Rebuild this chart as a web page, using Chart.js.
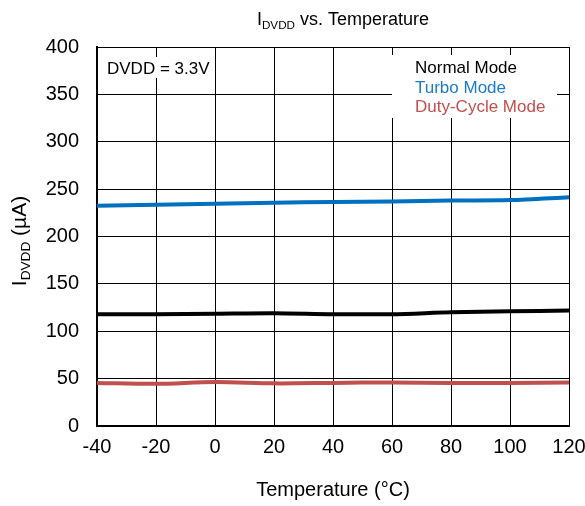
<!DOCTYPE html>
<html>
<head>
<meta charset="utf-8">
<script src="https://cdn.jsdelivr.net/npm/chart.js@4"></script>
<style>
  html, body { margin: 0; padding: 0; background: #fff; }
  #wrap { width: 585px; height: 506px; position: relative; }
</style>
</head>
<body>
<div id="wrap"><canvas id="idvddChart"></canvas></div>
<script>
// datos
const temperatures = [-40, -20, 0, 20, 40, 60, 80, 100, 120];
const normalMode = [118, 118, 118.5, 119, 118, 118, 120, 121, 122];
const turboMode = [232.5, 233.5, 234.5, 235.5, 236.5, 237, 238, 238.5, 241.5];
const dutyCycleMode = [45.5, 44.5, 46.5, 45, 45.5, 46, 45.5, 45.5, 46];
const yTicks = [0, 50, 100, 150, 200, 250, 300, 350, 400];
const xTicks = [-40, -20, 0, 20, 40, 60, 80, 100, 120];

const FONT = '"Liberation Sans", Arial, sans-serif';

// texto con subindice: partes [texto, esSub]
function drawParts(ctx, parts, x, y, size, align) {
    let total = 0;
    parts.forEach(p => {
        ctx.font = (p[1] ? size * 0.65 : size) + 'px ' + FONT;
        total += ctx.measureText(p[0]).width;
    });
    let cx = align === 'center' ? x - total / 2 : x;
    parts.forEach(p => {
        const s = p[1] ? size * 0.65 : size;
        ctx.font = s + 'px ' + FONT;
        ctx.textAlign = 'left';
        ctx.textBaseline = 'alphabetic';
        ctx.fillText(p[0], cx, p[1] ? y + size * 0.2 : y);
        cx += ctx.measureText(p[0]).width;
    });
}

const annotations = {
    id: 'annotations',
    afterDraw(chart) {
        const ctx = chart.ctx;
        const area = chart.chartArea;
        ctx.save();
        ctx.fillStyle = '#000';
        // titulo
        drawParts(ctx, [['I', false], ['DVDD', true], [' vs. Temperature', false]], 343, 25, 18, 'center');
        // titulo eje y
        ctx.save();
        ctx.translate(26, 241);
        ctx.rotate(-Math.PI / 2);
        drawParts(ctx, [['I', false], ['DVDD', true], [' (\u00b5A)', false]], 0, 0, 21, 'center');
        ctx.restore();

        // caja DVDD
        ctx.fillStyle = '#fff';
        ctx.fillRect(area.left + 2, area.top + 10, 114, 21);
        ctx.fillStyle = '#000';
        ctx.font = '17px ' + FONT;
        ctx.textAlign = 'left';
        ctx.textBaseline = 'alphabetic';
        ctx.fillText('DVDD = 3.3V', area.left + 10, area.top + 27);

        // leyenda
        const lx = area.right - 177;
        ctx.fillStyle = '#fff';
        ctx.fillRect(lx, area.top + 8, 165, 63);
        const items = [['Normal Mode', '#000000'], ['Turbo Mode', '#1a7bc9'], ['Duty-Cycle Mode', '#c0504d']];
        items.forEach((it, i) => {
            ctx.fillStyle = it[1];
            ctx.fillText(it[0], lx + 23, area.top + 26 + i * 19.5);
        });
        ctx.restore();
    }
};

document.addEventListener('DOMContentLoaded', function() {
    const chartCanvas = document.getElementById('idvddChart');
    if (!chartCanvas) return;

    new Chart(chartCanvas, {
        type: 'line',
        data: {
            labels: temperatures,
            datasets: [{
                label: 'Normal Mode',
                data: temperatures.map((t, i) => ({ x: t, y: normalMode[i] })),
                borderColor: '#000000',
                borderWidth: 4,
                pointRadius: 0,
                tension: 0.3
            }, {
                label: 'Turbo Mode',
                data: temperatures.map((t, i) => ({ x: t, y: turboMode[i] })),
                borderColor: '#0070c0',
                borderWidth: 4,
                pointRadius: 0,
                tension: 0.3
            }, {
                label: 'Duty-Cycle Mode',
                data: temperatures.map((t, i) => ({ x: t, y: dutyCycleMode[i] })),
                borderColor: '#c0504d',
                borderWidth: 4,
                pointRadius: 0,
                tension: 0.3
            }]
        },
        options: {
            responsive: true,
            maintainAspectRatio: false,
            animation: false,
            layout: { padding: { top: 47, right: 16, left: 0, bottom: 0 } },
            scales: {
                x: {
                    type: 'linear',
                    min: -40,
                    max: 120,
                    afterBuildTicks: s => { s.ticks = xTicks.map(v => ({ value: v })); },
                    afterFit: s => { s.height = 80; s.paddingLeft = 0; s.paddingRight = 0; },
                    grid: { color: '#000', lineWidth: 1, drawTicks: false },
                    border: { color: '#000', width: 2 },
                    ticks: { color: '#000', font: { family: FONT, size: 20 }, padding: 9, maxRotation: 0 },
                    title: { display: true, text: 'Temperature (\u00b0C)', color: '#000', font: { family: FONT, size: 20 }, padding: { top: 12 } }
                },
                y: {
                    min: 0,
                    max: 400,
                    afterBuildTicks: s => { s.ticks = yTicks.map(v => ({ value: v })); },
                    afterFit: s => { s.width = 97; s.paddingTop = 0; s.paddingBottom = 0; },
                    grid: { color: '#000', lineWidth: 1, drawTicks: false },
                    border: { color: '#000', width: 2 },
                    ticks: { color: '#000', font: { family: FONT, size: 20 }, padding: 18 }
                }
            },
            plugins: {
                legend: { display: false },
                tooltip: { enabled: false }
            }
        },
        plugins: [annotations]
    });
});
</script>
</body>
</html>
